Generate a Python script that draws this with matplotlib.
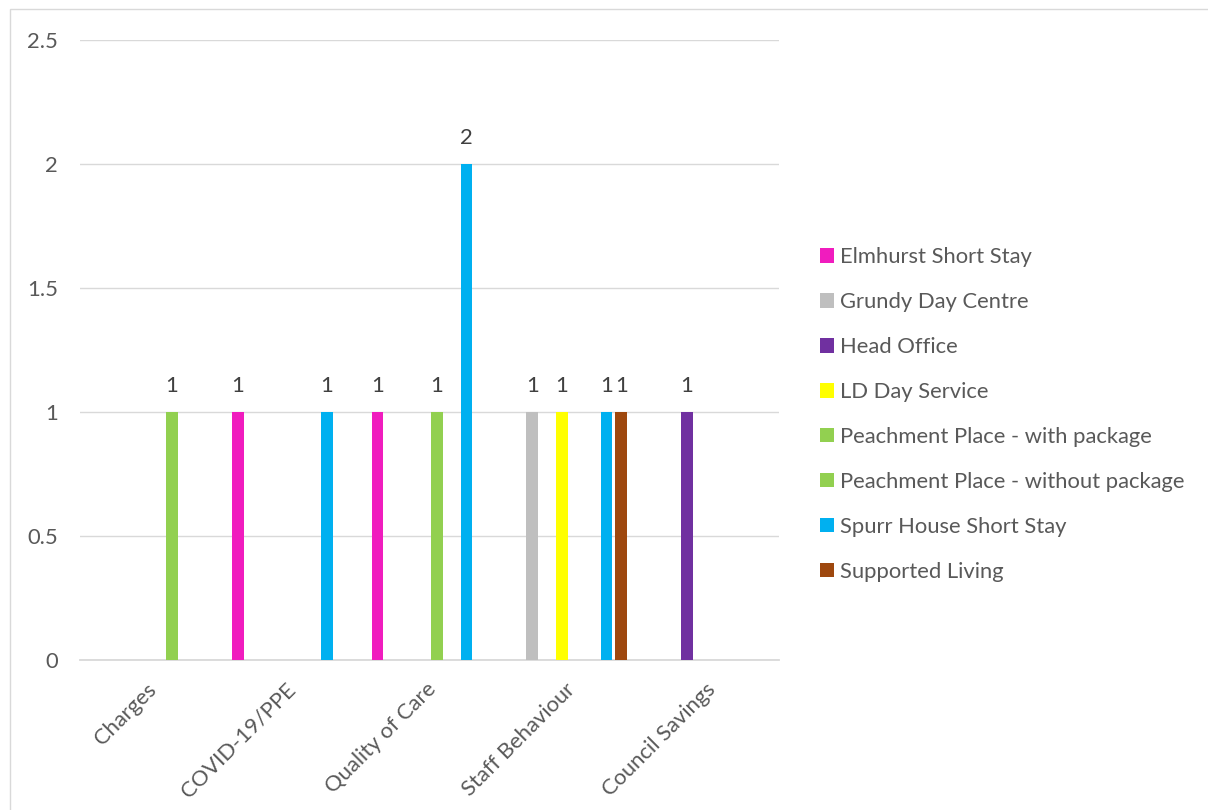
import numpy as np
import matplotlib
matplotlib.use('Agg')
import matplotlib.pyplot as plt
import matplotlib.transforms as mtransforms
from matplotlib.patches import Rectangle, Patch

# 数据
categories = ['Charges', 'COVID-19/PPE', 'Quality of Care', 'Staff Behaviour', 'Council Savings']
series_names = ['Elmhurst Short Stay', 'Grundy Day Centre', 'Head Office', 'LD Day Service',
                'Peachment Place - with package', 'Peachment Place - without package',
                'Spurr House Short Stay', 'Supported Living']
elmhurst = [0, 1, 1, 0, 0]
grundy = [0, 0, 0, 1, 0]
head_office = [0, 0, 0, 0, 1]
ld_day = [0, 0, 0, 1, 0]
peach_with = [0, 0, 1, 0, 0]
peach_without = [1, 0, 0, 0, 0]
spurr = [0, 1, 2, 1, 0]
supported = [0, 0, 0, 1, 0]
series_values = [elmhurst, grundy, head_office, ld_day, peach_with, peach_without, spurr, supported]
colors = ['#F01CBE', '#BFBFBF', '#7030A0', '#FFFF00', '#92D050', '#92D050', '#00B0F0', '#9E480E']

plt.rcParams['font.family'] = ['Lato', 'DejaVu Sans']
FS = 15.8

fig = plt.figure(figsize=(12.08, 8.10), dpi=100)
ax = fig.add_axes([0.0662, 0.1852, 0.5787, 0.7654])

x = np.arange(len(categories))
step = 0.106
width = 0.0837
n = len(series_values)
for i, (vals, col) in enumerate(zip(series_values, colors)):
    pos = x + (i - (n - 1) / 2) * step
    ax.bar(pos, vals, width=width, color=col, zorder=3, label=series_names[i])
    for p, v in zip(pos, vals):
        if v:
            ax.annotate(f'{v}', (p, v), xytext=(0, 18.5), textcoords='offset points',
                        ha='center', va='center', fontsize=FS, color='#404040')

ax.set_xlim(-0.5, len(categories) - 0.5)
ax.set_ylim(0, 2.5)
ax.set_yticks([0, 0.5, 1, 1.5, 2, 2.5])
ax.set_yticklabels(['0', '0.5', '1', '1.5', '2', '2.5'])
ax.yaxis.grid(True, color='#D9D9D9', linewidth=1.0, zorder=0)
ax.set_axisbelow(True)
for s in ['left', 'right', 'top']:
    ax.spines[s].set_visible(False)
ax.spines['bottom'].set_color('#D9D9D9')
ax.spines['bottom'].set_linewidth(1.3)
ax.tick_params(axis='both', length=0, labelsize=FS, colors='#595959')
ax.tick_params(axis='y', pad=16)
ax.set_xticks(x)
ax.set_xticklabels(categories, rotation=45, ha='right', va='center', rotation_mode='anchor')
ax.tick_params(axis='x', pad=19)
shift = mtransforms.ScaledTranslation(3 / 100, 0, fig.dpi_scale_trans)
for lab in ax.get_xticklabels():
    lab.set_transform(lab.get_transform() + shift)

# 图例
handles = [Patch(facecolor=c) for c in colors]
fig.legend(handles, series_names, loc='center left', bbox_to_anchor=(0.6788, 0.4883),
           frameon=False, fontsize=FS, handlelength=0.64, handleheight=0.64,
           handletextpad=0.28, labelspacing=1.135, borderpad=0, borderaxespad=0,
           labelcolor='#595959')

# 外框
fig.patches.append(Rectangle((9.5 / 1208, -0.1), 1.2, 1 - 9.5 / 810 + 0.1,
                             transform=fig.transFigure, fill=False,
                             edgecolor='#D9D9D9', linewidth=1.0))

plt.savefig('out.png', dpi=100)
